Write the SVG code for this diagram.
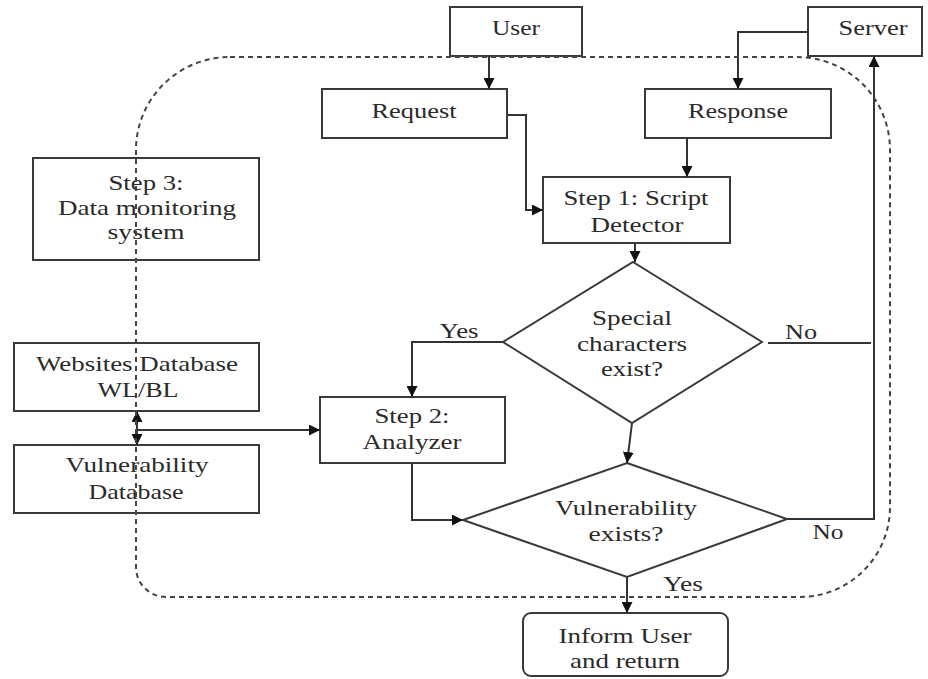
<svg xmlns="http://www.w3.org/2000/svg" width="928" height="679" viewBox="0 0 928 679">
<style>
.box{fill:#fff;stroke:#3a3a3a;stroke-width:2}
.t{font-family:"Liberation Serif","Times New Roman",serif;font-size:22px;fill:#2a2a2a;text-anchor:middle}
.c{fill:none;stroke:#333;stroke-width:2}
.dash{fill:none;stroke:#444;stroke-width:2;stroke-dasharray:5,4}
</style>
<defs>
<marker id="ah" viewBox="0 0 10 10" refX="10" refY="5" markerWidth="11" markerHeight="11" orient="auto" markerUnits="userSpaceOnUse"><path d="M0,0 L10,5 L0,10 z" fill="#111"/></marker>
</defs>

<g id="user"><rect class="box" x="450" y="7" width="132" height="49"/><text class="t" x="516" y="35" textLength="48" lengthAdjust="spacingAndGlyphs">User</text></g>
<g id="server"><rect class="box" x="808" y="7" width="114" height="49"/><text class="t" x="873" y="35" textLength="69" lengthAdjust="spacingAndGlyphs">Server</text></g>
<g id="request"><rect class="box" x="322" y="89" width="185" height="49"/><text class="t" x="414" y="118" textLength="85" lengthAdjust="spacingAndGlyphs">Request</text></g>
<g id="response"><rect class="box" x="645" y="89" width="186" height="49"/><text class="t" x="738" y="118" textLength="100" lengthAdjust="spacingAndGlyphs">Response</text></g>
<g id="step1"><rect class="box" x="543" y="177" width="187" height="66"/><text class="t" x="636" y="205" textLength="145" lengthAdjust="spacingAndGlyphs">Step 1: Script</text><text class="t" x="637" y="232" textLength="93" lengthAdjust="spacingAndGlyphs">Detector</text></g>
<g id="step3"><rect class="box" x="33" y="158" width="226" height="102"/><text class="t" x="146" y="190" textLength="75" lengthAdjust="spacingAndGlyphs">Step 3:</text><text class="t" x="147" y="215" textLength="178" lengthAdjust="spacingAndGlyphs">Data monitoring</text><text class="t" x="146" y="239" textLength="77" lengthAdjust="spacingAndGlyphs">system</text></g>
<g id="websites"><rect class="box" x="14" y="343" width="245" height="68"/><text class="t" x="137" y="371" textLength="202" lengthAdjust="spacingAndGlyphs">Websites Database</text><text class="t" x="138" y="397" textLength="81" lengthAdjust="spacingAndGlyphs">WL/BL</text></g>
<g id="vulndb"><rect class="box" x="14" y="445" width="245" height="68"/><text class="t" x="137" y="472" textLength="143" lengthAdjust="spacingAndGlyphs">Vulnerability</text><text class="t" x="136" y="499" textLength="95" lengthAdjust="spacingAndGlyphs">Database</text></g>
<g id="step2"><rect class="box" x="320" y="397" width="185" height="66"/><text class="t" x="412" y="423" textLength="75" lengthAdjust="spacingAndGlyphs">Step 2:</text><text class="t" x="412" y="449" textLength="99" lengthAdjust="spacingAndGlyphs">Analyzer</text></g>
<g id="special"><polygon class="box" points="633,262 762,342 632,423 503,342"/><text class="t" x="632" y="325" textLength="80" lengthAdjust="spacingAndGlyphs">Special</text><text class="t" x="632" y="351" textLength="110" lengthAdjust="spacingAndGlyphs">characters</text><text class="t" x="632" y="376" textLength="62" lengthAdjust="spacingAndGlyphs">exist?</text></g>
<g id="vulnexists"><polygon class="box" points="627,463 787,519 627,577 463,520"/><text class="t" x="626" y="515" textLength="142" lengthAdjust="spacingAndGlyphs">Vulnerability</text><text class="t" x="626" y="541" textLength="75" lengthAdjust="spacingAndGlyphs">exists?</text></g>
<g id="inform"><rect class="box" x="523" y="613" width="205" height="63" rx="8"/><text class="t" x="625" y="643" textLength="133" lengthAdjust="spacingAndGlyphs">Inform User</text><text class="t" x="625" y="668" textLength="110" lengthAdjust="spacingAndGlyphs">and return</text></g>

<g id="connectors">
<path class="c" d="M489,56 V89" marker-end="url(#ah)"/>
<path class="c" d="M808,32 H738 V89" marker-end="url(#ah)"/>
<path class="c" d="M507,115 H526 V210 H543" marker-end="url(#ah)"/>
<path class="c" d="M687,138 V177" marker-end="url(#ah)"/>
<path class="c" d="M635,243 V262" marker-end="url(#ah)"/>
<path class="c" d="M503,342 H412 V397" marker-end="url(#ah)"/>
<path class="c" d="M768,343 H871"/>
<path class="c" d="M632,423 L627,463" marker-end="url(#ah)"/>
<path class="c" d="M412,463 V520 H463" marker-end="url(#ah)"/>
<path class="c" d="M787,519 H874 V56" marker-end="url(#ah)"/>
<path class="c" d="M627,577 V613" marker-end="url(#ah)"/>
<path class="c" d="M137,430 H320" marker-end="url(#ah)"/>
<path class="c" d="M137,430 V411" marker-end="url(#ah)"/>
<path class="c" d="M137,430 V445" marker-end="url(#ah)"/>
<text class="t" x="459" y="338" textLength="39" lengthAdjust="spacingAndGlyphs">Yes</text>
<text class="t" x="801" y="339" textLength="32" lengthAdjust="spacingAndGlyphs">No</text>
<text class="t" x="828" y="539" textLength="31" lengthAdjust="spacingAndGlyphs">No</text>
<text class="t" x="683" y="591" textLength="40" lengthAdjust="spacingAndGlyphs">Yes</text>
</g>

<path id="boundary" class="dash" d="M230,57 H797 A93,93 0 0 1 890,150 V507 A90,90 0 0 1 800,597 H166 A30,30 0 0 1 136,567 V150 A94,93 0 0 1 230,57 Z"/>
</svg>
